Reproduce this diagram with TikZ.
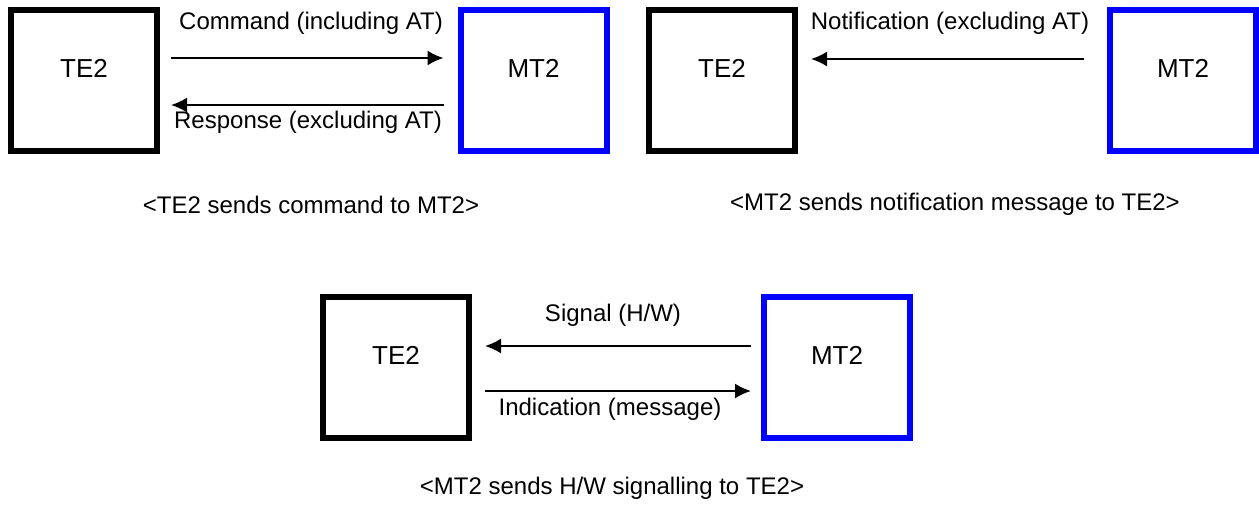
\documentclass[tikz,border=0pt]{standalone}
\usepackage{fontspec}
\setmainfont{Liberation Sans}
\usetikzlibrary{arrows.meta}

\tikzset{
  lbl/.style={font=\fontsize{12}{14}\selectfont, inner sep=0pt},
  tebox/.style={draw=black, line width=3pt, minimum width=73pt, minimum height=70.5pt, inner sep=0pt,
    label={[inner sep=0pt, font=\fontsize{13}{15}\selectfont, yshift=6pt]center:#1}},
  mtbox/.style={tebox=#1, draw=blue},
  msg/.style={line width=1pt, -{Latex[length=8pt,width=7.5pt]}}
}

\begin{document}
\begin{tikzpicture}[x=0.5pt, y=-0.5pt]
  \useasboundingbox (0, 0) rectangle (1259, 505);

  % TE2 sends command to MT2
  \node [tebox=TE2] (teA) at (84, 80) {};
  \node [mtbox=MT2] (mtA) at (533.5, 80) {};
  \draw [msg] ([xshift=5.5pt]teA.east |- 0, 58) -- ([xshift=-7pt]mtA.west |- 0, 58);
  \draw [msg] ([xshift=-7pt]mtA.west |- 0, 105) -- ([xshift=5.5pt]teA.east |- 0, 105);
  \node [lbl] (cmd) at (311, 23) {Command (including AT)};
  \node [lbl] (rsp) at (308, 122) {Response (excluding AT)};
  \node [lbl] (capA) at (311, 205) {<TE2 sends command to MT2>};

  % MT2 sends notification message to TE2
  \node [tebox=TE2] (teB) at (722, 80) {};
  \node [mtbox=MT2] (mtB) at (1183, 80) {};
  \draw [msg] ([xshift=-11.5pt]mtB.west |- 0, 59) -- ([xshift=6.5pt]teB.east |- 0, 59);
  \node [lbl] (ntf) at (950, 23) {Notification (excluding AT)};
  \node [lbl] (capB) at (955, 204) {<MT2 sends notification message to TE2>};

  % MT2 sends H/W signalling to TE2
  \node [tebox=TE2] (teC) at (396, 367.5) {};
  \node [mtbox=MT2] (mtC) at (837, 367.5) {};
  \draw [msg] ([xshift=-5pt]mtC.west |- 0, 346) -- ([xshift=6.5pt]teC.east |- 0, 346);
  \draw [msg] ([xshift=6.5pt]teC.east |- 0, 391) -- ([xshift=-5pt]mtC.west |- 0, 391);
  \node [lbl] (sig) at (613, 315) {Signal (H/W)};
  \node [lbl] (ind) at (610, 409) {Indication (message)};
  \node [lbl] (capC) at (612, 488) {<MT2 sends H/W signalling to TE2>};
\end{tikzpicture}
\end{document}
